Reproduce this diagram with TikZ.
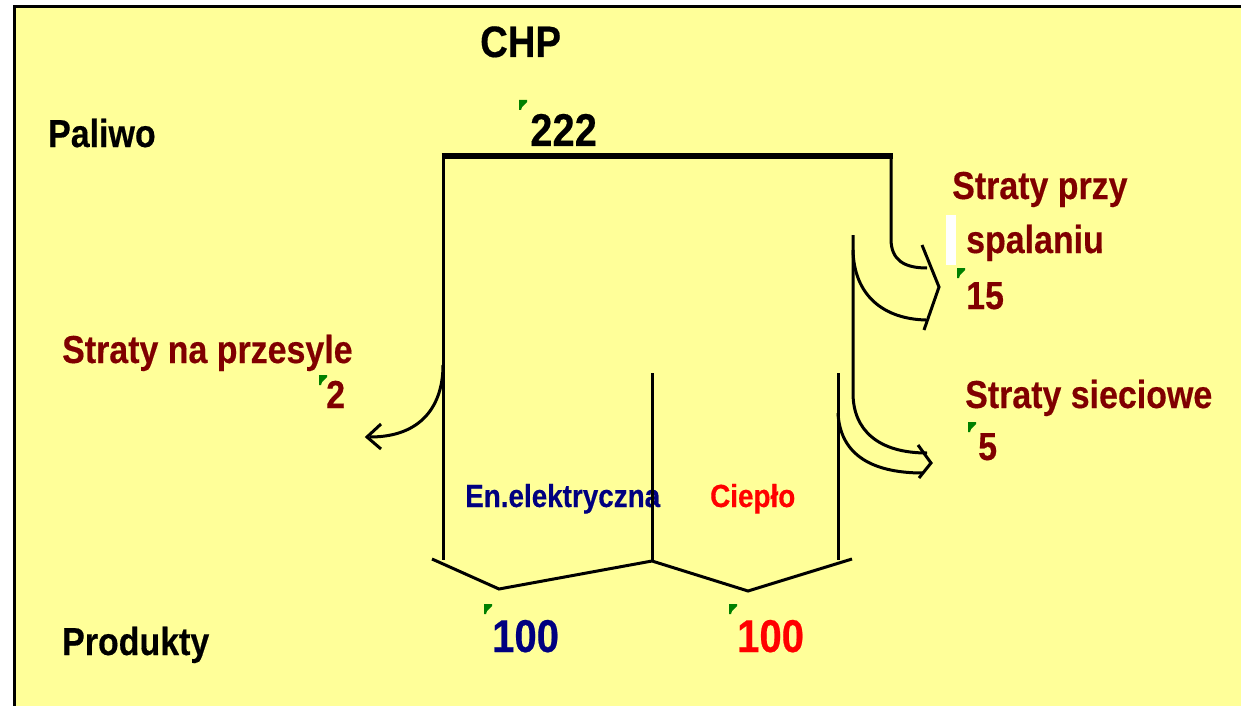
\documentclass[tikz,border=0pt]{standalone}
\usepackage{fontspec}
\setmainfont{Liberation Sans}[FakeStretch=0.87, BoldFeatures={FakeBold=0.4}]
\definecolor{bgyellow}{HTML}{FFFF99}
\definecolor{maroonx}{HTML}{800000}
\definecolor{navyx}{HTML}{000080}
\definecolor{redx}{HTML}{FF0000}
\definecolor{mkgreen}{HTML}{008000}
\tikzset{
  lbl/.style={inner sep=0pt, anchor=base west, font=\bfseries\fontsize{39}{40}\selectfont},
  big/.style={lbl, font=\bfseries\fontsize{46}{48}\selectfont},
  small/.style={lbl, font=\bfseries\fontsize{32}{33}\selectfont},
  loss/.style={lbl, text=maroonx},
  flow/.style={line width=3pt},
  gmark/.pic={\fill[mkgreen] (0,0) -- (8,0) -- (8,2) -- (3,7) -- (2,10) -- (0,10) -- cycle;}
}
\begin{document}
\begin{tikzpicture}[x=1pt,y=-1pt]
\useasboundingbox (0,0) rectangle (1241,706);
\fill[white] (0,0) rectangle (1241,706);
\fill[bgyellow] (16,8) rectangle (1241,706);
\draw[line width=3pt] (14.5,706) -- (14.5,6.5) -- (1241,6.5);

% texts
\node[big, font=\bfseries\fontsize{44}{46}\selectfont] (chp) at (480,57) {CHP};
\node[lbl] (paliwo) at (48,147) {Paliwo};
\pic at (519,100) {gmark};
\node[big] (v222) at (530,146) {222};
\node[loss] (sp1) at (952,199) {Straty przy};
\fill[white] (945.5,215) rectangle (955.5,265);
\node[loss] (sp2) at (966,253) {spalaniu};
\pic at (957,268) {gmark};
\node[loss] (v15) at (966,309) {15};
\node[loss] (snp) at (62,363) {Straty na przesyle};
\pic at (319,375) {gmark};
\node[loss] (v2) at (326,408) {2};
\node[loss] (ss) at (965,408) {Straty sieciowe};
\pic at (968,422) {gmark};
\node[loss] (v5) at (978,460) {5};
\node[small, text=navyx] (ee) at (465,507) {En.elektryczna};
\node[small, text=redx] (cp) at (710,507) {Ciepło};
\node[lbl] (prod) at (62,655) {Produkty};
\pic at (484,604) {gmark};
\node[big, text=navyx] (v100a) at (492,652) {100};
\pic at (729,604) {gmark};
\node[big, text=redx] (v100b) at (737,652) {100};

% coordinates
\coordinate (tl) at (443,156);
\coordinate (tr) at (891,156);
\coordinate (bl) at (443,560);
\coordinate (mt) at (652,373);
\coordinate (mb) at (652,561);
\coordinate (rt) at (838,373);
\coordinate (rb) at (838,560);

% fuel bar and column lines
\draw[line width=5.5pt] ([xshift=-1.5pt]tl) -- ([xshift=1.5pt]tr);
\draw[flow] (tl) -- (bl);
\draw[flow] (mt) -- (mb);
\draw[flow] (rt) -- (rb);

% bottom brackets
\draw[flow, line join=miter] (432,559) -- (499,589) -- (mb) -- (748,591) -- (852,559);

% combustion loss arrow
\draw[flow] (tr) -- (891,239) .. controls (891,260) and (904,268) .. (927,268);
\draw[flow] (853,235) -- (853,393) .. controls (853,430) and (878,453) .. (927,453);
\draw[flow] (853,250) .. controls (854,296) and (884,319) .. (926,320);
\draw[flow, line join=miter] (922,245) -- (939,287) -- (924,330);

% network loss arrow
\draw[flow] (838,413) .. controls (840,452) and (868,473) .. (923,473);
\draw[flow, line join=miter] (918,445) -- (931,463) -- (919,478);

% transmission loss arrow
\draw[flow] (443,365) .. controls (443,405) and (422,437) .. (370,437);
\draw[flow, line join=miter] (381,424) -- (367,437) -- (381,449);
\end{tikzpicture}
\end{document}
